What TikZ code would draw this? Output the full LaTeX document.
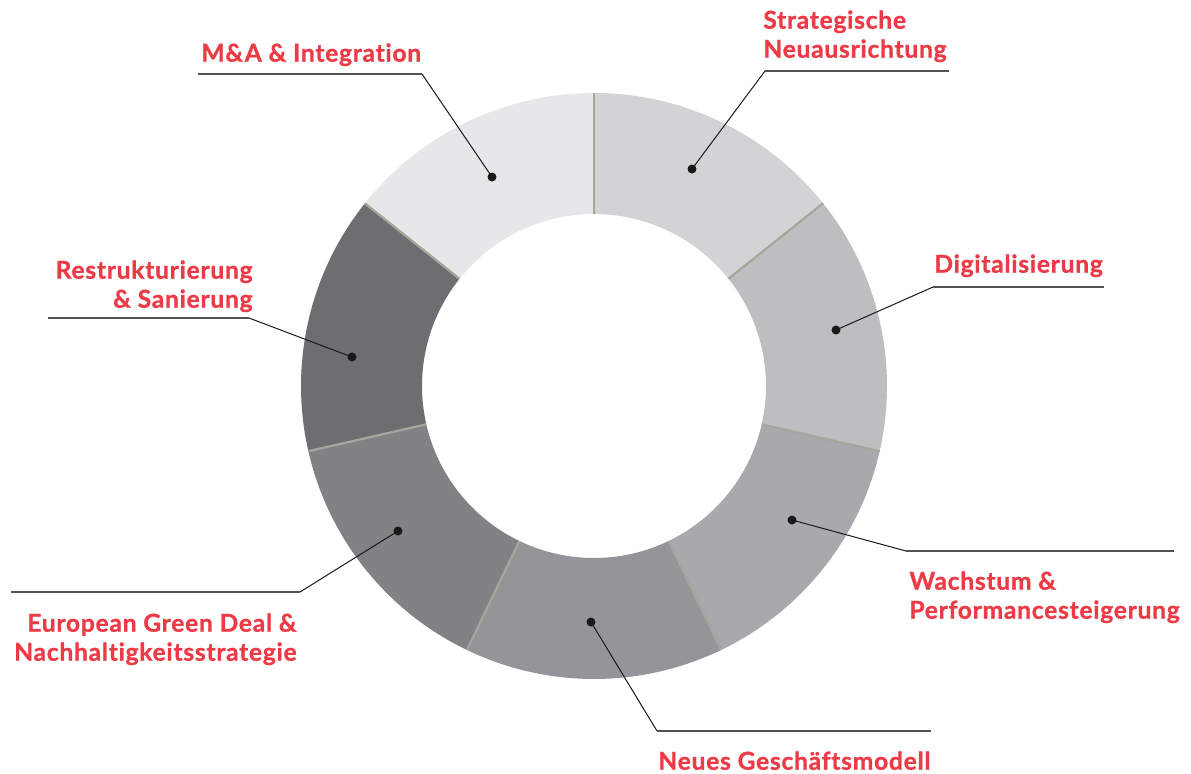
\documentclass[tikz,border=0pt]{standalone}
\usepackage{fontspec}
\setmainfont{Lato}[BoldFeatures={FakeBold=1,LetterSpace=3,Ligatures=NoCommon}]
\usepackage{tikz}

\definecolor{labelred}{HTML}{EC3A46}
\definecolor{sepolive}{HTML}{A6A69C}
\definecolor{segA}{HTML}{D1D3D4}
\definecolor{segB}{HTML}{BCBEC0}
\definecolor{segC}{HTML}{A7A9AC}
\definecolor{segD}{HTML}{939598}
\definecolor{segE}{HTML}{808285}
\definecolor{segF}{HTML}{6D6E71}
\definecolor{segG}{HTML}{E6E7E8}

\tikzset{
  lbl/.style={text=labelred,font=\bfseries\fontsize{12.3}{14.5}\selectfont,inner sep=0pt},
  dot/.style={circle,fill=black!90,inner sep=0pt,minimum size=4.5pt},
  leader/.style={line width=0.5pt,black!90},
  shelf/.style={line width=0.9pt,black!68},
  sep/.style={line width=1.1pt,sepolive}
}

\begin{document}
\begin{tikzpicture}[x=0.5pt,y=-0.5pt]
    \useasboundingbox (0,0) rectangle (1191,773);
    \coordinate (c) at (594,386);
    % ring
    \foreach \a/\b/\col in {-90/-38.57/segA,-38.57/12.86/segB,12.86/64.29/segC,
        64.29/115.71/segD,115.71/167.14/segE,167.14/218.57/segF,218.57/270/segG}
      \fill[\col] ([shift={(\a:293)}]c) arc[start angle=\a,end angle=\b,radius=293]
        -- ([shift={(\b:172)}]c) arc[start angle=\b,end angle=\a,radius=172] -- cycle;
    \foreach \a in {-90,-38.57,12.86,64.29,115.71,167.14,218.57}
      \draw[sep] ([shift={(\a:172)}]c) -- ([shift={(\a:293)}]c);

    % labels
    \node[lbl,anchor=north west] (ma) at (201,43) {M\&A \& Integration};
    \node[lbl,anchor=north west,align=left] (strat) at (763,10) {Strategische\\Neuausrichtung};
    \node[lbl,anchor=north west] (digi) at (934,254) {Digitalisierung};
    \node[lbl,anchor=north west,align=left] (wachs) at (909,571) {Wachstum \&\\Performancesteigerung};
    \node[lbl,anchor=north west] (neu) at (658,751) {Neues Geschäftsmodell};
    \node[lbl,anchor=north east,align=right] (green) at (297,613) {European Green Deal \&\\Nachhaltigkeitsstrategie};
    \node[lbl,anchor=north east,align=right] (restr) at (253,260) {Restrukturierung\\\& Sanierung};

    % dots and leaders
    \node[dot] (dma) at (492,177) {};
    \node[dot] (dstrat) at (692,169) {};
    \node[dot] (ddigi) at (836,330) {};
    \node[dot] (dwachs) at (792,520) {};
    \node[dot] (dneu) at (591,622) {};
    \node[dot] (dgreen) at (398,531) {};
    \node[dot] (drestr) at (352,357) {};

    \coordinate (kma) at (422,74);     \coordinate (ema) at (198,74);
    \coordinate (kstrat) at (765,71);  \coordinate (estrat) at (949,71);
    \coordinate (kdigi) at (933,287);  \coordinate (edigi) at (1104,287);
    \coordinate (kwachs) at (906,551); \coordinate (ewachs) at (1174,551);
    \coordinate (kneu) at (657,731);   \coordinate (eneu) at (931,731);
    \coordinate (kgreen) at (300,592); \coordinate (egreen) at (11,592);
    \coordinate (krestr) at (249,318); \coordinate (erestr) at (48,318);

    \foreach \n in {ma,strat,digi,wachs,neu,green,restr}{
      \draw[leader] (d\n.center) -- (k\n);
      \draw[shelf] (k\n) -- (e\n);
    }
\end{tikzpicture}
\end{document}
